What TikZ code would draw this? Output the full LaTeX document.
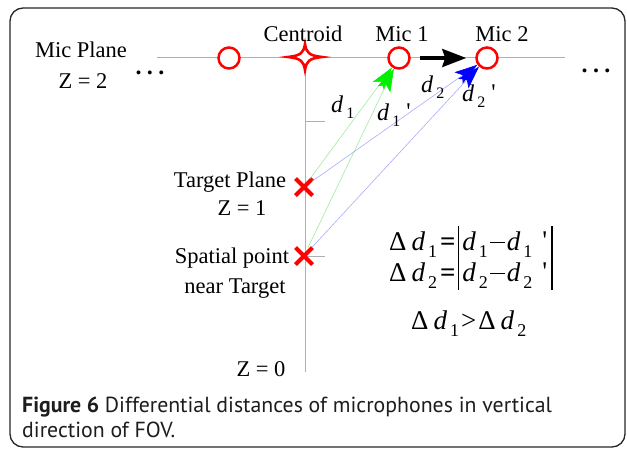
\documentclass[tikz,border=0pt]{standalone}
\usepackage{fontspec}
\setmainfont{Liberation Serif}
\newfontfamily\capfont{PT Sans}
\usetikzlibrary{arrows.meta,shapes.misc}
\definecolor{micred}{RGB}{255,0,0}
\definecolor{gridgray}{RGB}{175,175,175}
\definecolor{lgreen}{RGB}{160,235,160}
\definecolor{hgreen}{RGB}{0,240,0}
\definecolor{lblue}{RGB}{170,170,255}
\definecolor{hblue}{RGB}{0,0,255}
\definecolor{captxt}{RGB}{30,28,28}
\newcommand{\dsb}[1]{\textit{d}\kern3pt\raisebox{-6pt}{\fontsize{16}{16}\selectfont #1}}
\newcommand{\esb}[1]{\textit{d}\kern3pt\raisebox{-7pt}{\fontsize{18}{18}\selectfont #1}}
\newcommand{\vbar}{\rule[-9pt]{1.8pt}{33pt}}
\newcommand{\prm}{\raisebox{1pt}{\textquotesingle}}
\newcommand{\emin}{\rule[7pt]{15pt}{1.3pt}}
\begin{document}
\begin{tikzpicture}[x=1pt,y=-1pt,
  lbl/.style={font=\fontsize{22.5}{26}\selectfont, inner sep=0pt, anchor=base},
  dlbl/.style={font=\fontsize{24}{26}\selectfont, inner sep=0pt, anchor=base west},
  eqn/.style={font=\fontsize{27}{30}\selectfont, inner sep=0pt, anchor=base west},
  mic/.style={circle, draw=micred, line width=2.5pt, minimum size=21pt, inner sep=0pt, fill=white},
  xmk/.style={cross out, draw=micred, line width=4pt, minimum size=13pt, inner sep=0pt},
  gridline/.style={draw=gridgray, line width=0.8pt},
  gline/.style={draw=lgreen, line width=0.6pt, -{Stealth[length=23pt,width=14pt,inset=5pt,color=hgreen]}},
  bline/.style={draw=lblue, line width=0.6pt, -{Stealth[length=23pt,width=14pt,inset=5pt,color=hblue]}},
  dots/.style={font=\fontsize{24}{24}\selectfont\bfseries, inner sep=0pt, anchor=base},
  captext/.style={inner sep=0pt, anchor=base west, font=\capfont\fontsize{21.8}{25}\selectfont, text=captxt}
]
\useasboundingbox (0,0) rectangle (627,450);
% frame
\draw[line width=1.3pt, draw=black!85, rounded corners=13pt] (10,8) rectangle (625,447);

% grid lines
\coordinate (pl) at (157,57);
\coordinate (pr) at (565,57);
\coordinate (cen) at (305,57);
\coordinate (axend) at (305,372);
\coordinate (t1a) at (305,121);
\coordinate (t1b) at (325,121);
\coordinate (t2a) at (305,256);
\coordinate (t2b) at (325,256);
\draw[gridline] (pl) -- (pr);
\draw[gridline] (cen) -- (axend);
\draw[gridline] (t1a) -- (t1b);
\draw[gridline] (t2a) -- (t2b);

% mics
\node[mic] (m0) at (229,58) {};
\node[mic] (m1) at (399,58) {};
\node[mic] (m2) at (487,58) {};

% centroid star
\draw[draw=micred, line width=2.6pt, fill=white, shift={(305,57)}]
  (17,0) .. controls (4,1.5) and (1.5,4) .. (0,13)
  .. controls (-1.5,4) and (-4,1.5) .. (-17,0)
  .. controls (-4,-1.5) and (-1.5,-4) .. (0,-13)
  .. controls (1.5,-4) and (4,-1.5) .. (17,0) -- cycle;

% target points
\node[xmk] (tgt) at (304,187) {};
\node[xmk] (spt) at (304,256) {};

% distance lines
\draw[gline] (tgt) -- (m1);
\draw[gline] (spt) -- (m1);
\draw[bline] (tgt) -- (m2);
\draw[bline] (spt) -- (m2);

% black arrow
\draw[line width=3.5pt, -{Stealth[length=24pt,width=18pt,inset=3pt]}, shorten <=9pt, shorten >=9pt] (m1) -- (m2);

% labels
\node[lbl] (lmp) at (81,57) {Mic Plane};
\node[lbl] (lz2) at (83,88) {Z = 2};
\node[dots] (dl) at (150,74) {.\hspace{5.5pt}.\hspace{5.5pt}.};
\node[dots] (dr) at (596,72) {.\hspace{5.5pt}.\hspace{5.5pt}.};
\node[lbl] (lcen) at (303,41) {Centroid};
\node[lbl] (lm1) at (402,41) {Mic 1};
\node[lbl] (lm2) at (502,41) {Mic 2};
\node[lbl] (ltp) at (230,187) {Target Plane};
\node[lbl] (lz1) at (242,215) {Z = 1};
\node[lbl] (lsp) at (232,263) {Spatial point};
\node[lbl] (lnt) at (235,293) {near Target};
\node[lbl] (lz0) at (261,376) {Z = 0};

% distance labels
\node[dlbl] (ld1) at (331,112) {\dsb{1}};
\node[dlbl] (ld1p) at (377,120) {\dsb{1}\kern6pt\prm};
\node[dlbl] (ld2) at (421,92) {\dsb{2}};
\node[dlbl] (ld2p) at (462,101) {\dsb{2}\kern6pt\prm};

% equations
\node[eqn] (eq1) at (389,250) {Δ\kern5pt\esb{1}\kern3pt\textbf{=}\kern2pt\vbar\kern3pt\esb{1}\kern2pt\emin\kern2pt\esb{1}\kern10pt\prm\kern4pt\vbar};
\node[eqn] (eq2) at (389,281) {Δ\kern5pt\esb{2}\kern3pt\textbf{=}\kern2pt\vbar\kern3pt\esb{2}\kern2pt\emin\kern2pt\esb{2}\kern10pt\prm\kern4pt\vbar};
\node[eqn] (eq3) at (411,329) {Δ\kern5pt\esb{1}\kern2pt>\kern2ptΔ\kern5pt\esb{2}};

% caption
\node[captext] (cap1) at (22,412) {\textbf{Figure 6} Differential distances of microphones in vertical};
\node[captext] (cap2) at (22,437) {direction of FOV.};
\end{tikzpicture}
\end{document}
